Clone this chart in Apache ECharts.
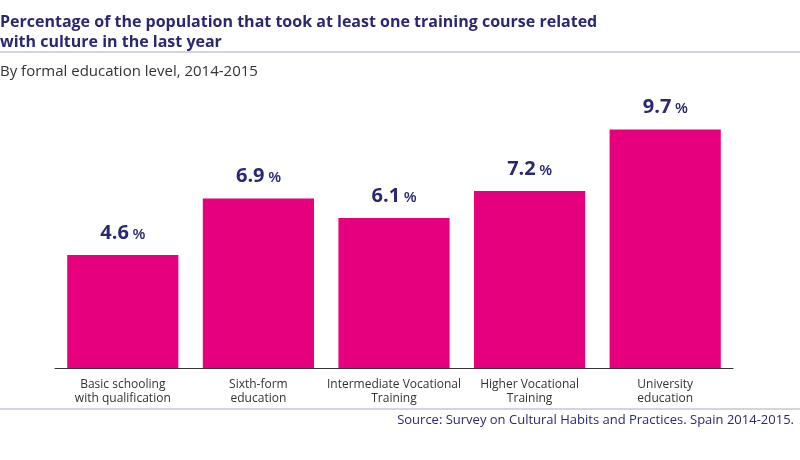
<!DOCTYPE html>
<html><head><meta charset="utf-8">
<script src="https://cdn.jsdelivr.net/npm/echarts@6/dist/echarts.min.js"></script>
<style>html,body{margin:0;padding:0;background:#fff}#c{width:800px;height:460px}</style>
</head><body><div id="c"></div>
<script>
const categories = ["Basic schooling\nwith qualification","Sixth-form\neducation","Intermediate Vocational\nTraining","Higher Vocational\nTraining","University\neducation"];
const values = [4.6, 6.9, 6.1, 7.2, 9.7];
const navy = '#2b2872';
const chart = echarts.init(document.getElementById('c'));
chart.setOption({
  animation:false,
  graphic:[
    {type:'text',left:0,top:12,style:{text:'Percentage of the population that took at least one training course related\nwith culture in the last year',fill:navy,font:'bold 16px "Open Sans", sans-serif',lineHeight:20}},
    {type:'line',shape:{x1:0,y1:52,x2:800,y2:52},style:{stroke:'#a9a5d0',lineWidth:1}},
    {type:'text',left:0,top:64,style:{text:'By formal education level, 2014-2015',fill:'#333',font:'15px "Open Sans", sans-serif'}},
    {type:'line',shape:{x1:0,y1:409,x2:800,y2:409},style:{stroke:'#a9a5d0',lineWidth:1}},
    {type:'text',right:6,top:414,style:{text:'Source: Survey on Cultural Habits and Practices. Spain 2014-2015.',fill:navy,font:'13px "Open Sans", sans-serif'}}
  ],
  grid:{left:55,right:67,top:73,bottom:92},
  xAxis:{type:'category',data:categories,axisLine:{lineStyle:{color:'#333'}},axisTick:{show:false},
    axisLabel:{color:'#333',fontSize:12,lineHeight:14,margin:10,interval:0,fontFamily:'"Open Sans", sans-serif'}},
  yAxis:{type:'value',min:0,max:12,show:false},
  series:[{type:'bar',data:values,barCategoryGap:'18%',itemStyle:{color:'#e6007e'},
    label:{show:true,position:'top',distance:12,formatter:p=>'{v|'+p.value.toFixed(1)+'}{p| %}',
      rich:{v:{fontSize:20,fontWeight:'bold',color:navy,fontFamily:'"Open Sans", sans-serif'},p:{fontSize:14,fontWeight:'bold',color:navy,padding:[4,0,0,0]}}}}]
});
</script></body></html>
